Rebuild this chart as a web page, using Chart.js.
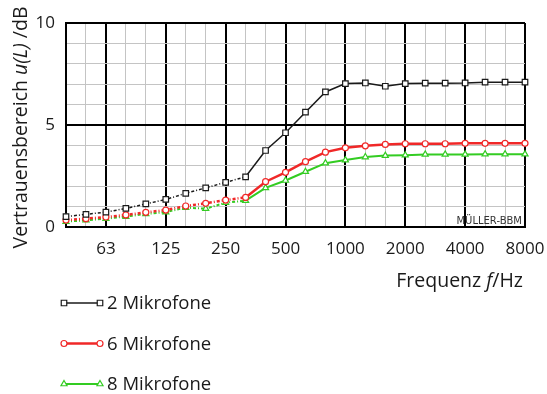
<!DOCTYPE html>
<html lang="de">
<head>
  <meta charset="UTF-8" />
  <title>Vertrauensbereich</title>
  <script src="https://cdn.jsdelivr.net/npm/chart.js"></script>
  <style>
    html, body { margin: 0; padding: 0; background: #fff; }
    canvas { display: block; }
  </style>
</head>
<body>
  <canvas id="chart" width="547" height="394"></canvas>

  <script>
    // Terzbänder 40 Hz .. 8000 Hz
    const freqLabels = ['40','50','63','80','100','125','160','200','250','315','400','500',
                        '630','800','1000','1250','1600','2000','2500','3150','4000','5000','6300','8000'];
    const octaveLabels = ['63','125','250','500','1000','2000','4000','8000'];
    const yTickLabels = [0, 5, 10];

    const mic2 = [0.51,0.62,0.73,0.91,1.13,1.35,1.65,1.92,2.19,2.46,3.75,4.62,
                  5.63,6.62,7.03,7.06,6.90,7.03,7.05,7.05,7.06,7.10,7.10,7.10];
    const mic6 = [0.34,0.41,0.49,0.59,0.72,0.83,1.03,1.16,1.32,1.45,2.22,2.68,
                  3.20,3.67,3.88,3.98,4.05,4.08,4.08,4.08,4.10,4.10,4.10,4.10];
    const mic8 = [0.26,0.33,0.41,0.51,0.64,0.73,0.95,0.90,1.19,1.29,1.92,2.28,
                  2.71,3.13,3.28,3.43,3.50,3.52,3.56,3.56,3.56,3.57,3.57,3.57];

    const FONT = '"Open Sans", "Noto Sans", sans-serif';
    const TXT = '#1a1a1a';

    // gestrichelt bis 315 Hz
    const dashUntil = 9;
    function seg(pattern) {
      return { borderDash: ctx => ctx.p0DataIndex < dashUntil ? pattern : undefined };
    }

    function series(label, data, color, width, style, radius) {
      return {
        label, data,
        borderColor: color,
        borderWidth: width,
        pointStyle: style,
        pointRadius: radius,
        pointBackgroundColor: '#fff',
        pointBorderColor: color,
        pointBorderWidth: 1.2,
        tension: 0,
        segment: seg([3, 2, 1, 2])
      };
    }

    function drawParts(ctx, parts, x, y) {
      parts.forEach(p => {
        ctx.font = p[1];
        ctx.fillText(p[0], x, y);
        x += ctx.measureText(p[0]).width;
      });
    }
    function partsWidth(ctx, parts) {
      let w = 0;
      parts.forEach(p => { ctx.font = p[1]; w += ctx.measureText(p[0]).width; });
      return w;
    }

    const extras = {
      id: 'extras',
      afterDraw(chart) {
        const ctx = chart.ctx;
        const a = chart.chartArea;
        ctx.save();
        ctx.fillStyle = TXT;
        ctx.textBaseline = 'alphabetic';
        ctx.textAlign = 'left';

        // Y-Achsentitel
        const norm = '19.5px ' + FONT, ital = 'italic 19.5px ' + FONT;
        const yParts = [['Vertrauensbereich ', norm], ['u(L)', ital], [' /dB', norm]];
        const yw = partsWidth(ctx, yParts);
        ctx.save();
        ctx.translate(27, 127.5);
        ctx.rotate(-Math.PI / 2);
        drawParts(ctx, yParts, -yw / 2, 0);
        ctx.restore();

        // X-Achsentitel
        const xParts = [['Frequenz ', norm], ['f', ital], ['/Hz', norm]];
        const xw = partsWidth(ctx, xParts);
        drawParts(ctx, xParts, 523 - xw, 287);

        // Logo
        ctx.font = '10px "DejaVu Sans", sans-serif';
        ctx.fillStyle = '#333';
        ctx.textAlign = 'right';
        ctx.fillText('MÜLLER-BBM', a.right - 3, a.bottom - 3);

        // Legende
        const legFont = '18.5px ' + FONT;
        ctx.textAlign = 'left';
        ctx.textBaseline = 'middle';
        chart.data.datasets.forEach((ds, i) => {
          const y = 303 + i * 40.5;
          const x0 = 64, x1 = 100;
          ctx.strokeStyle = ds.borderColor;
          ctx.lineWidth = ds.borderWidth;
          ctx.setLineDash([]);
          ctx.beginPath();
          ctx.moveTo(x0, y);
          ctx.lineTo(x1, y);
          ctx.stroke();
          ctx.fillStyle = '#fff';
          ctx.lineWidth = 1.2;
          [x0, x1].forEach(x => {
            Chart.helpers.drawPoint(ctx, { pointStyle: ds.pointStyle, radius: ds.pointRadius, rotation: 0, borderWidth: 1.2 }, x, y);
          });
          ctx.fillStyle = TXT;
          ctx.font = legFont;
          ctx.fillText(ds.label, 107, y + 1);
        });
        ctx.restore();
      }
    };

    new Chart(document.getElementById('chart'), {
      type: 'line',
      data: {
        labels: freqLabels,
        datasets: [
          series('2 Mikrofone', mic2, '#1a1a1a', 1.5, 'rect', 3.9),
          series('6 Mikrofone', mic6, '#f02828', 2.5, 'circle', 3),
          series('8 Mikrofone', mic8, '#33cc22', 2, 'triangle', 3.5)
        ]
      },
      options: {
        responsive: false,
        animation: false,
        devicePixelRatio: 1,
        layout: { padding: { left: 0, right: 22, top: 23, bottom: 137 } },
        plugins: { legend: { display: false }, tooltip: { enabled: false } },
        scales: {
          x: {
            type: 'category',
            offset: false,
            afterFit: s => { s.height = 30; s.paddingLeft = 0; s.paddingRight = 0; },
            grid: {
              drawTicks: false,
              color: c => (c.index === 0 || octaveLabels.includes(freqLabels[c.index])) ? '#000' : '#c4c4c4',
              lineWidth: c => (c.index === 0 || octaveLabels.includes(freqLabels[c.index])) ? 2 : 1
            },
            border: { display: true, color: '#000', width: 2 },
            ticks: {
              autoSkip: false,
              maxRotation: 0,
              padding: 12,
              color: TXT,
              font: { family: FONT, size: 17 },
              callback: (v, i) => octaveLabels.includes(freqLabels[i]) ? freqLabels[i] : ''
            }
          },
          y: {
            min: 0,
            max: 10,
            afterFit: s => { s.width = 66; s.paddingTop = 0; s.paddingBottom = 0; },
            grid: {
              drawTicks: false,
              color: c => yTickLabels.includes(c.tick.value) ? '#000' : '#c4c4c4',
              lineWidth: c => yTickLabels.includes(c.tick.value) ? 2 : 1
            },
            border: { display: true, color: '#000', width: 2 },
            ticks: {
              stepSize: 1,
              autoSkip: false,
              padding: 11,
              color: TXT,
              font: { family: FONT, size: 17 },
              callback: v => yTickLabels.includes(v) ? String(v) : ''
            }
          }
        }
      },
      plugins: [extras]
    });
  </script>
</body>
</html>
